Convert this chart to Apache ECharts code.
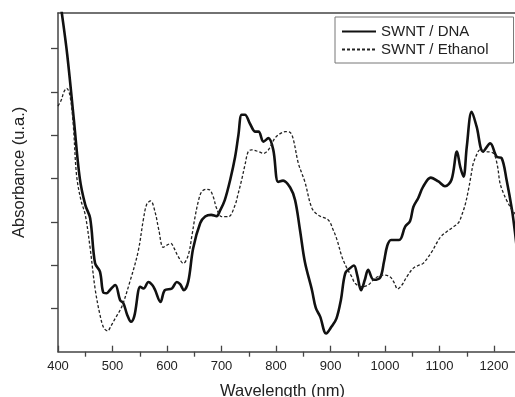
<!DOCTYPE html>
<html>
<head>
<meta charset="utf-8">
<title>SWNT absorbance</title>
<script src="https://cdn.jsdelivr.net/npm/echarts@6/dist/echarts.min.js"></script>
<style>
 html,body{margin:0;padding:0;background:#fff;}
 #main{width:515px;height:397px;}
</style>
</head>
<body>
<div id="main"></div>
<script>
// spectra (wavelength in nm, absorbance in arbitrary units)
var dnaWave=[400,407,417,429,440,450,459,468,477,483,489,495,505,514,520,527,534,540,551,557,566,573,578,588,596,609,618,624,631,639,648,661,670,681,691,697,706,716,725,731,737,743,752,762,768,777,786,795,804,813,826,835,844,853,866,873,881,892,902,911,919,927,936,943,949,956,963,969,979,991,998,1004,1011,1026,1037,1046,1052,1061,1070,1084,1098,1110,1122,1132,1138,1144,1150,1159,1168,1180,1193,1205,1214,1223,1233,1239,1242];
var dnaAbs=[8.44,7.82,6.85,5.37,4.00,3.39,3.08,2.04,1.85,1.37,1.35,1.42,1.54,1.19,1.12,0.85,0.69,0.82,1.50,1.46,1.61,1.54,1.43,1.15,1.42,1.46,1.61,1.56,1.42,1.62,2.39,2.97,3.12,3.16,3.13,3.25,3.50,3.97,4.50,5.00,5.47,5.47,5.27,5.08,5.08,4.85,4.93,4.66,3.92,3.95,3.79,3.50,2.81,2.07,1.42,1.01,0.81,0.42,0.58,0.77,1.19,1.81,1.93,1.99,1.77,1.42,1.66,1.89,1.66,1.71,2.07,2.44,2.58,2.58,2.89,3.02,3.34,3.55,3.81,4.02,3.93,3.82,3.97,4.62,4.27,4.04,4.73,5.54,5.20,4.62,4.81,4.50,4.47,3.97,3.27,2.70,2.35];
var ethWave=[400,406,411,416,422,428,434,442,450,459,468,477,484,491,497,505,517,532,547,557,563,570,578,585,593,600,607,613,620,630,639,646,651,658,664,673,679,685,691,700,713,725,730,737,743,749,755,768,777,786,798,807,817,826,832,841,853,866,878,896,905,912,921,930,939,945,957,969,982,997,1009,1017,1023,1031,1040,1052,1061,1070,1086,1094,1102,1113,1123,1135,1141,1147,1153,1158,1162,1169,1174,1187,1199,1206,1211,1217,1223,1233,1239,1242];
var ethAbs=[5.67,5.81,6.00,6.08,5.91,5.24,4.08,3.50,3.16,2.39,1.46,0.85,0.55,0.48,0.59,0.77,1.04,1.62,2.31,3.08,3.41,3.48,3.23,2.81,2.41,2.46,2.50,2.39,2.21,2.04,2.23,2.70,3.08,3.50,3.70,3.75,3.73,3.57,3.31,3.12,3.12,3.39,3.62,3.97,4.31,4.62,4.66,4.62,4.58,4.66,4.93,5.03,5.08,5.06,4.89,4.35,3.92,3.31,3.15,3.04,2.81,2.58,2.19,1.93,1.73,1.58,1.50,1.54,1.70,1.77,1.73,1.59,1.45,1.54,1.73,1.93,1.99,2.04,2.31,2.49,2.65,2.77,2.86,2.98,3.16,3.39,3.73,4.08,4.35,4.57,4.66,4.62,4.58,4.31,3.89,3.67,3.50,3.27,3.18,3.13];
var seriesNames=['SWNT / DNA','SWNT / Ethanol'];
var majorTicks=[400,500,600,700,800,900,1000,1100,1200];
var minorTicks=[450,550,650,750,850,950,1050,1150];
var yTicks=[1,2,3,4,5,6,7];

var font='"Liberation Sans", Arial, sans-serif';
var axisColor='#444';
var xMin=400, xMax=1238.5;

function pairs(xs,ys){
  var d=[];
  for(var i=0;i<xs.length;i++)
    d.push([xs[i],ys[i]]);
  return d;
}

var myChart=echarts.init(document.getElementById('main'),null,{renderer:'canvas'});
var option={
  animation:false,
  backgroundColor:'#fff',
  grid:{left:58,top:13,right:0,bottom:45.3,containLabel:false,outerBoundsMode:'none'},
  legend:{
    orient:'vertical',
    left:335,top:17,
    padding:[7,25,6,6],
    itemWidth:34,itemHeight:14,itemGap:3,
    borderColor:'#777',borderWidth:1,
    itemStyle:{opacity:0},
    textStyle:{fontFamily:font,fontSize:15,color:'#222'},
    data:seriesNames
  },
  xAxis:[
    {
      type:'value',min:xMin,max:xMax,interval:100,position:'bottom',
      axisLine:{show:true,lineStyle:{color:axisColor,width:1.5}},
      axisTick:{show:true,inside:true,length:6,customValues:majorTicks,lineStyle:{color:axisColor,width:1.3}},
      axisLabel:{customValues:majorTicks,margin:8,color:'#222',fontSize:13,fontFamily:font,
        formatter:function(v){return String(v);}},
      splitLine:{show:false},
      name:'Wavelength (nm)',nameLocation:'middle',nameGap:31,
      nameTextStyle:{fontFamily:font,fontSize:16.5,color:'#222',padding:[0,8,0,0]}
    },
    {
      type:'value',min:xMin,max:xMax,interval:50,position:'bottom',
      axisLine:{show:false},
      axisTick:{show:true,length:5,customValues:minorTicks,lineStyle:{color:axisColor,width:1.3}},
      axisLabel:{show:false},
      splitLine:{show:false}
    },
    {
      type:'value',min:xMin,max:xMax,position:'top',
      axisLine:{show:true,lineStyle:{color:axisColor,width:1.5}},
      axisTick:{show:false},axisLabel:{show:false},splitLine:{show:false}
    }
  ],
  yAxis:{
    type:'value',min:0,max:7.82,interval:1,
    axisLine:{show:true,lineStyle:{color:axisColor,width:1.5}},
    axisTick:{show:true,length:7,customValues:yTicks,lineStyle:{color:axisColor,width:1.3}},
    axisLabel:{show:false},
    splitLine:{show:false},
    name:'Absorbance (u.a.)',nameLocation:'middle',nameGap:30,
    nameTextStyle:{fontFamily:font,fontSize:16.5,color:'#222',padding:[0,0,0,20]}
  },
  series:[
    {
      name:seriesNames[0],type:'line',xAxisIndex:0,
      data:pairs(dnaWave,dnaAbs),
      showSymbol:false,symbol:'none',smooth:0.35,
      lineStyle:{color:'#111',width:2.6},
      itemStyle:{color:'#111'}
    },
    {
      name:seriesNames[1],type:'line',xAxisIndex:0,
      data:pairs(ethWave,ethAbs),
      showSymbol:false,symbol:'none',smooth:0.35,
      lineStyle:{color:'#222',width:1.3,type:[3,2]},
      itemStyle:{color:'#222'}
    }
  ]
};
myChart.setOption(option);
</script>
</body>
</html>
